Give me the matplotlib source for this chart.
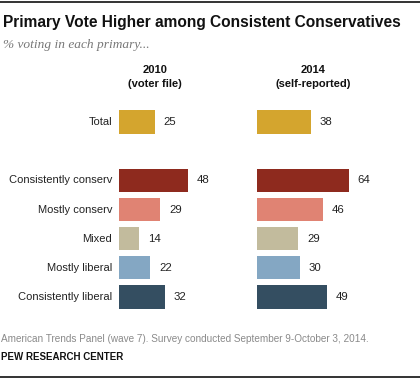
import matplotlib

matplotlib.use("Agg")
import matplotlib.pyplot as plt

# Data
categories = ["Total", "Consistently conserv", "Mostly conserv", "Mixed",
              "Mostly liberal", "Consistently liberal"]
positions = [0, 2, 3, 4, 5, 6]
vote_2010 = [25, 48, 29, 14, 22, 32]
vote_2014 = [38, 64, 46, 29, 30, 49]
colors = ["#D4A52E", "#8E2A1E", "#E08373", "#C2BB9D", "#84A7C3", "#344E61"]

W, H = 420, 379
fig = plt.figure(figsize=(W / 100, H / 100), dpi=100)
plt.rcParams["font.family"] = ["Liberation Sans", "DejaVu Sans"]

SCALE = 1.43  # px per percentage point
SLOT = 29.17  # px per row


def px_axes(x0, y_top, y_bottom, width):
    return fig.add_axes([x0 / W, 1 - y_bottom / H, width / W, (y_bottom - y_top) / H])


y_top = 122 - 0.75 * SLOT
y_bot = 297 + 0.8 * SLOT
for x0, vals in [(119, vote_2010), (257, vote_2014)]:
    ax = px_axes(x0, y_top, y_bot, 130)
    ax.barh(positions, vals, height=0.79, color=colors)
    ax.set_xlim(0, 130 / SCALE)
    ax.set_ylim(6.8, -0.75)
    ax.axis("off")
    for p, v in zip(positions, vals):
        ax.text(v + 6, p, str(v), ha="left", va="center", fontsize=8.2, color="#222222")

# Category labels
for p, c in zip(positions, categories):
    fig.text(112 / W, 1 - (122 + p * SLOT) / H, c, ha="right", va="center",
             fontsize=8, color="#222222")

# Title, subtitle
fig.text(3 / W, 1 - 22 / H, "Primary Vote Higher among Consistent Conservatives",
         ha="left", va="center", fontsize=11.2, fontweight="bold", color="#111111")
fig.text(3 / W, 1 - 45 / H, "% voting in each primary...", ha="left", va="center",
         fontsize=9.6, style="italic", family="Liberation Serif", color="#777777")

# Column headers
for cx, yr, sub in [(155, "2010", "(voter file)"), (313, "2014", "(self-reported)")]:
    fig.text(cx / W, 1 - 70 / H, yr, ha="center", va="center", fontsize=8,
             fontweight="bold", color="#111111")
    fig.text(cx / W, 1 - 84 / H, sub, ha="center", va="center", fontsize=8,
             fontweight="bold", color="#111111")

# Footer
fig.text(1 / W, 1 - 339 / H,
         "American Trends Panel (wave 7). Survey conducted September 9-October 3, 2014.",
         ha="left", va="center", fontsize=7.2, color="#8a8a8a")
fig.text(1 / W, 1 - 357 / H, "PEW RESEARCH CENTER", ha="left", va="center",
         fontsize=7, fontweight="bold", color="#111111")

# Border lines
fig.add_artist(plt.Line2D([0, 1], [1 - 1.5 / H, 1 - 1.5 / H], color="#111111", lw=1.2))
fig.add_artist(plt.Line2D([0, 1], [1 - 377 / H, 1 - 377 / H], color="#111111", lw=1.2))

fig.savefig("out.png", dpi=100, facecolor="white")
